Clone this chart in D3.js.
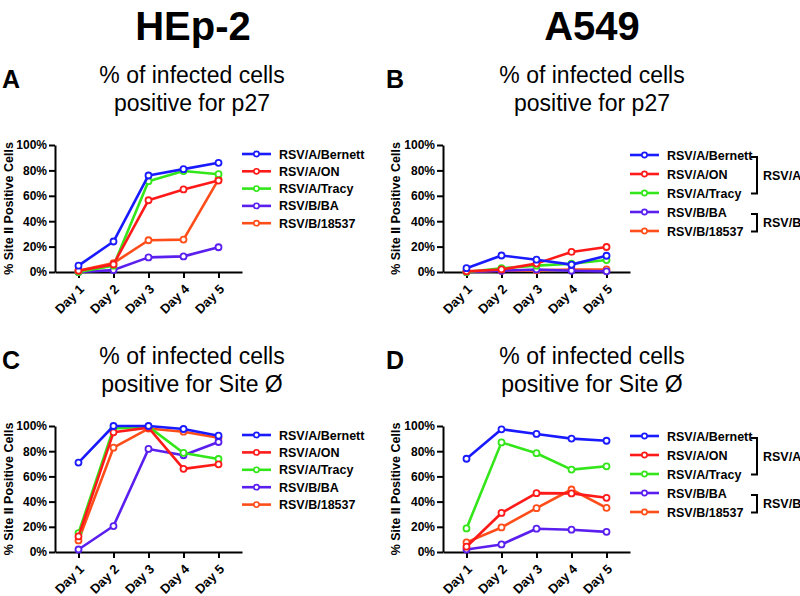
<!DOCTYPE html>
<html><head><meta charset="utf-8">
<script src="https://cdn.jsdelivr.net/npm/d3@7"></script>
<style>
body{margin:0;background:#fff;}
text{font-family:"Liberation Sans",Arial,sans-serif;}
</style></head>
<body><svg id="c" width="800" height="596"></svg>
<script>
const days = ["Day 1","Day 2","Day 3","Day 4","Day 5"];
const seriesNames = ["RSV/A/Bernett","RSV/A/ON","RSV/A/Tracy","RSV/B/BA","RSV/B/18537"];
const seriesColors = ["#1a1aff","#ff1a1a","#33e61a","#5a1fef","#ff4d1a"];
const yTicks = [0,20,40,60,80,100];
const groupLabels = ["RSV/A","RSV/B"];

// Panel A: HEp-2, p27
const panelA_Bernett = [5,24,76,81,86];
const panelA_ON      = [1,6,56.5,65,72];
const panelA_Tracy   = [0,5,71.5,79.5,77];
const panelA_BA      = [0,1.5,11.5,12.3,19.5];
const panelA_18537   = [1,7,25,25.5,73];
// Panel B: A549, p27
const panelB_Bernett = [3,13,9.7,5.8,12.8];
const panelB_ON      = [0.5,2,6.6,15.8,19.7];
const panelB_Tracy   = [0,3,5,6.5,9.4];
const panelB_BA      = [0,1,2,1,0.5];
const panelB_18537   = [0,1,1.3,2,2];
// Panel C: HEp-2, Site Ø
const panelC_Bernett = [71,100,100,97.6,92.3];
const panelC_ON      = [12.4,95,98.7,66,69.6];
const panelC_Tracy   = [15,98,99.5,78.6,73.8];
const panelC_BA      = [2,20.6,81.8,76.8,87.3];
const panelC_18537   = [9.2,82.8,98,95.5,90.7];
// Panel D: A549, Site Ø
const panelD_Bernett = [74,97.4,93.7,90,88.3];
const panelD_ON      = [4.2,31,46.7,46.5,43];
const panelD_Tracy   = [18.7,87,78.4,65.4,68];
const panelD_BA      = [2,6,18.5,17.7,16];
const panelD_18537   = [7.6,19.5,34.8,49.6,35];

const svg = d3.select("#c");
const FONT = '"Liberation Sans",Arial,sans-serif';

// big headers
svg.append("text").attr("x",193).attr("y",40).attr("text-anchor","middle")
  .attr("font-size",40).attr("font-weight","bold").text("HEp-2");
svg.append("text").attr("x",592).attr("y",40).attr("text-anchor","middle")
  .attr("font-size",40).attr("font-weight","bold").text("A549");

function panel(cfg){
  const g = svg.append("g");
  const x = d3.scalePoint().domain(days).range([cfg.ax, cfg.ax+187]).padding(0.671);
  const y = d3.scaleLinear().domain([0,100]).range([cfg.bottom, cfg.top]);
  // letter
  g.append("text").attr("x",cfg.letterX).attr("y",cfg.titleY+5).attr("font-size",25)
    .attr("font-weight","bold").text(cfg.letter);
  // title
  g.append("text").attr("x",cfg.titleX).attr("y",cfg.titleY).attr("text-anchor","middle")
    .attr("font-size",23).text("% of infected cells");
  g.append("text").attr("x",cfg.titleX).attr("y",cfg.titleY+28).attr("text-anchor","middle")
    .attr("font-size",23).text(cfg.title2);
  // y axis label
  g.append("text").attr("transform",`translate(${cfg.ylabX},${(cfg.top+cfg.bottom)/2}) rotate(-90)`)
    .attr("text-anchor","middle").attr("font-size",12.5).attr("font-weight","bold")
    .text("% Site II Positive Cells");
  // axes
  const ya = g.append("g").attr("transform",`translate(${cfg.ax},0)`)
    .call(d3.axisLeft(y).tickValues(yTicks).tickFormat(d=>d+"%").tickSize(6).tickSizeOuter(0).tickPadding(2));
  ya.selectAll("path,line").attr("stroke","#000").attr("stroke-width",2);
  ya.selectAll("text").attr("font-size",12).attr("font-weight","bold").attr("font-family",FONT).attr("fill","#000");
  const xa = g.append("g").attr("transform",`translate(0,${cfg.bottom})`)
    .call(d3.axisBottom(x).tickSize(6).tickSizeOuter(0));
  xa.selectAll("path,line").attr("stroke","#000").attr("stroke-width",2);
  xa.selectAll("text").attr("font-size",13).attr("font-weight","bold").attr("font-family",FONT).attr("fill","#000")
    .attr("text-anchor","end").attr("dy",null).attr("y",null)
    .attr("transform","translate(6,18) rotate(-45)");
  // lines
  const line = d3.line().x((d,i)=>x(days[i])).y(d=>y(d));
  for (let s=cfg.data.length-1; s>=0; s--){
    const vals = cfg.data[s];
    g.append("path").attr("d",line(vals)).attr("fill","none")
      .attr("stroke",seriesColors[s]).attr("stroke-width",2.6).attr("stroke-linejoin","round");
    g.selectAll(null).data(vals).enter().append("circle")
      .attr("cx",(d,i)=>x(days[i])).attr("cy",d=>y(d)).attr("r",3)
      .attr("fill","#fff").attr("stroke",seriesColors[s]).attr("stroke-width",1.8);
  }
  // legend
  seriesNames.forEach((n,i)=>{
    const ly = cfg.legY + i*cfg.legStep;
    g.append("line").attr("x1",cfg.legX).attr("x2",cfg.legX+29).attr("y1",ly).attr("y2",ly)
      .attr("stroke",seriesColors[i]).attr("stroke-width",2.6);
    g.append("circle").attr("cx",cfg.legX+14.5).attr("cy",ly).attr("r",2.6)
      .attr("fill","#fff").attr("stroke",seriesColors[i]).attr("stroke-width",1.6);
    g.append("text").attr("x",cfg.legX+37).attr("y",ly+4.5).attr("font-size",12.5)
      .attr("font-weight","bold").text(n);
  });
  if (cfg.brackets){
    const bx = 757;
    const groups = [[0,2],[3,4]];
    groups.forEach((gr,k)=>{
      const y1 = cfg.legY + gr[0]*cfg.legStep + 2, y2 = cfg.legY + gr[1]*cfg.legStep + 0.5;
      g.append("path").attr("d",`M${bx-6},${y1}H${bx}V${y2}H${bx-6}`).attr("fill","none")
        .attr("stroke","#000").attr("stroke-width",2);
      g.append("text").attr("x",bx+6).attr("y",(y1+y2)/2+4.5).attr("font-size",12.5)
        .attr("font-weight","bold").text(groupLabels[k]);
    });
  }
}

panel({letter:"A",letterX:2,titleX:192,titleY:83,title2:"positive for p27",ax:55,top:145,bottom:272,ylabX:13,
  legX:242,legY:154,legStep:17.3,brackets:false,
  data:[panelA_Bernett,panelA_ON,panelA_Tracy,panelA_BA,panelA_18537]});
panel({letter:"B",letterX:386,titleX:592,titleY:83,title2:"positive for p27",ax:443,top:145,bottom:272,ylabX:400,
  legX:630,legY:155,legStep:19,brackets:true,
  data:[panelB_Bernett,panelB_ON,panelB_Tracy,panelB_BA,panelB_18537]});
panel({letter:"C",letterX:2,titleX:192,titleY:364,title2:"positive for Site Ø",ax:55,top:426,bottom:552,ylabX:13,
  legX:242,legY:435,legStep:17.4,brackets:false,
  data:[panelC_Bernett,panelC_ON,panelC_Tracy,panelC_BA,panelC_18537]});
panel({letter:"D",letterX:386,titleX:592,titleY:364,title2:"positive for Site Ø",ax:443,top:426,bottom:552,ylabX:400,
  legX:630,legY:436,legStep:19,brackets:true,
  data:[panelD_Bernett,panelD_ON,panelD_Tracy,panelD_BA,panelD_18537]});
</script></body></html>
